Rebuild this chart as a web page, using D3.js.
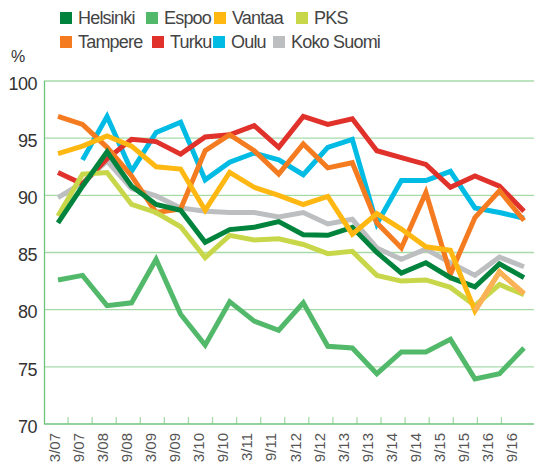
<!DOCTYPE html>
<html>
<head>
<meta charset="utf-8">
<script src="https://cdn.jsdelivr.net/npm/d3@7"></script>
<style>
  html, body { margin: 0; padding: 0; background: #fff; }
  text { font-family: "Liberation Sans", Arial, sans-serif; fill: #444; }
</style>
</head>
<body>
<div id="chart"></div>
<script>
var categories = ["3/07","9/07","3/08","9/08","3/09","9/09","3/10","9/10","3/11","9/11",
                  "3/12","9/12","3/13","9/13","3/14","9/14","3/15","9/15","3/16","9/16"];

var helsinki = [87.6, 90.8, 93.8, 90.8, 89.2, 88.7, 85.9, 87.0, 87.2, 87.7, 86.55, 86.5, 87.2, 85.0, 83.2, 84.1, 82.8, 82.0, 84.0, 82.8];
var espoo    = [82.6, 83.0, 80.35, 80.6, 84.4, 79.6, 76.9, 80.7, 79.0, 78.2, 80.6, 76.8, 76.65, 74.4, 76.3, 76.3, 77.4, 73.95, 74.4, 76.65];
var vantaa   = [93.65, 94.3, 95.2, 94.3, 92.5, 92.3, 88.7, 92.0, 90.7, 90.0, 89.2, 89.9, 86.6, 88.4, 87.05, 85.5, 85.2, 79.9, 83.3, 81.4];
var pks      = [88.2, 91.85, 92.0, 89.2, 88.5, 87.25, 84.55, 86.5, 86.1, 86.2, 85.7, 84.9, 85.1, 83.0, 82.5, 82.6, 81.95, 80.35, 82.2, 81.3];
var tampere  = [96.9, 96.2, 94.2, 91.7, 88.5, 88.8, 93.9, 95.3, 93.9, 91.85, 94.5, 92.4, 92.85, 87.6, 85.4, 90.25, 83.1, 88.06, 90.4, 87.8];
var turku    = [92.0, 91.0, 93.2, 94.9, 94.7, 93.6, 95.1, 95.3, 96.1, 94.2, 96.9, 96.2, 96.7, 93.9, 93.3, 92.7, 90.7, 91.7, 90.8, 88.6];
var oulu     = [null, 93.1, 96.9, 92.1, 95.5, 96.4, 91.35, 92.9, 93.7, 93.1, 91.8, 94.2, 94.9, 87.5, 91.3, 91.3, 92.1, 88.9, 88.5, 88.0];
var kokoSuomi = [89.8, 91.1, 93.0, 90.6, 89.95, 88.9, 88.6, 88.5, 88.5, 88.1, 88.5, 87.5, 87.9, 85.4, 84.4, 85.3, 84.1, 83.0, 84.6, 83.75];

var yTicks = [70, 75, 80, 85, 90, 95, 100];

var series = [
    { name: "Helsinki",   values: helsinki,  color: "#00843d" },
    { name: "Espoo",      values: espoo,     color: "#52b96a" },
    { name: "Vantaa",     values: vantaa,    color: "#ffb812" },
    { name: "PKS",        values: pks,       color: "#c8d74a" },
    { name: "Tampere",    values: tampere,   color: "#f47b20" },
    { name: "Turku",      values: turku,     color: "#e0312b" },
    { name: "Oulu",       values: oulu,      color: "#00bce4" },
    { name: "Koko Suomi", values: kokoSuomi, color: "#bcbec0" }
];

// drawing order (bottom first)
var drawOrder = ["Koko Suomi", "Oulu", "Turku", "Tampere", "PKS", "Espoo", "Helsinki", "Vantaa"];
var vantaaTailStart = 17; // last segments drawn lighter, as in the original
var vantaaTailColor = "#f9b257";

var W = 534, H = 468;
var svg = d3.select("#chart").append("svg").attr("width", W).attr("height", H);

var xBand = d3.scaleBand().domain(categories).range([44, 525.5]);
var xPoint = d3.scalePoint().domain(categories).range([58, 524]);
var y = d3.scaleLinear().domain([70, 100]).range([424, 81]);

// grid
svg.append("g").selectAll("line")
    .data(yTicks.filter(function (d) { return d > 70; }))
    .enter().append("line")
    .attr("x1", 44).attr("x2", W)
    .attr("y1", function (d) { return y(d); })
    .attr("y2", function (d) { return y(d); })
    .attr("stroke", "#a6dba8")
    .attr("stroke-width", 1.3);

// x ticks (band boundaries)
svg.append("g").selectAll("line")
    .data(categories.slice(1))
    .enter().append("line")
    .attr("x1", function (d) { return xBand(d); })
    .attr("x2", function (d) { return xBand(d); })
    .attr("y1", y(70)).attr("y2", y(70) - 7)
    .attr("stroke", "#a6dba8")
    .attr("stroke-width", 1.3);

// axes lines
svg.append("line").attr("x1", 44.5).attr("x2", 44.5).attr("y1", y(100)).attr("y2", y(70))
    .attr("stroke", "#6cc47a").attr("stroke-width", 1.3);
svg.append("line").attr("x1", 44).attr("x2", W).attr("y1", y(70)).attr("y2", y(70))
    .attr("stroke", "#6cc47a").attr("stroke-width", 1.3);

// y labels
svg.append("g").selectAll("text")
    .data(yTicks)
    .enter().append("text")
    .attr("x", 37)
    .attr("y", function (d) { return y(d) + 2.5; })
    .attr("dy", "0.35em")
    .attr("text-anchor", "end")
    .style("font-size", "18px")
    .style("letter-spacing", "-0.5px")
    .style("fill", "#333")
    .text(function (d) { return d; });

svg.append("text").attr("x", 11).attr("y", 62)
    .style("font-size", "16px").style("fill", "#333").text("%");

// x labels
svg.append("g").selectAll("text")
    .data(categories)
    .enter().append("text")
    .attr("transform", function (d) {
        return "translate(" + (xBand(d) + xBand.bandwidth() / 2 - 1.5) + ",433) rotate(-90)";
    })
    .attr("dy", "0.35em")
    .attr("text-anchor", "end")
    .style("font-size", "15px")
    .style("fill", "#555")
    .text(function (d) { return d; });

// lines
var line = d3.line()
    .defined(function (d) { return d != null; })
    .x(function (d, i) { return xPoint(categories[i]); })
    .y(function (d) { return y(d); });

var plot = svg.append("g");
drawOrder.forEach(function (name) {
    var s = series.find(function (d) { return d.name === name; });
    plot.append("path")
        .attr("d", line(s.values))
        .attr("fill", "none")
        .attr("stroke", s.color)
        .attr("stroke-width", 5)
        .attr("stroke-linejoin", "miter");
    if (name === "Vantaa") {
        var tail = s.values.map(function (v, i) { return i >= vantaaTailStart ? v : null; });
        plot.append("path")
            .attr("d", line(tail))
            .attr("fill", "none")
            .attr("stroke", vantaaTailColor)
            .attr("stroke-width", 5)
            .attr("stroke-linejoin", "miter");
    }
});

// legend
var legendPos = [
    { x: 60, y: 12 }, { x: 146, y: 12 }, { x: 214, y: 12 }, { x: 296, y: 12 },
    { x: 60, y: 36 }, { x: 152, y: 36 }, { x: 213, y: 36 }, { x: 273, y: 36 }
];
var legend = svg.append("g").selectAll("g")
    .data(series)
    .enter().append("g")
    .attr("transform", function (d, i) { return "translate(" + legendPos[i].x + "," + legendPos[i].y + ")"; });
legend.append("rect").attr("width", 12).attr("height", 12)
    .attr("fill", function (d) { return d.color; });
legend.append("text").attr("x", 18).attr("y", 12)
    .style("font-size", "18px")
    .style("letter-spacing", "-0.8px")
    .text(function (d) { return d.name; });
</script>
</body>
</html>
